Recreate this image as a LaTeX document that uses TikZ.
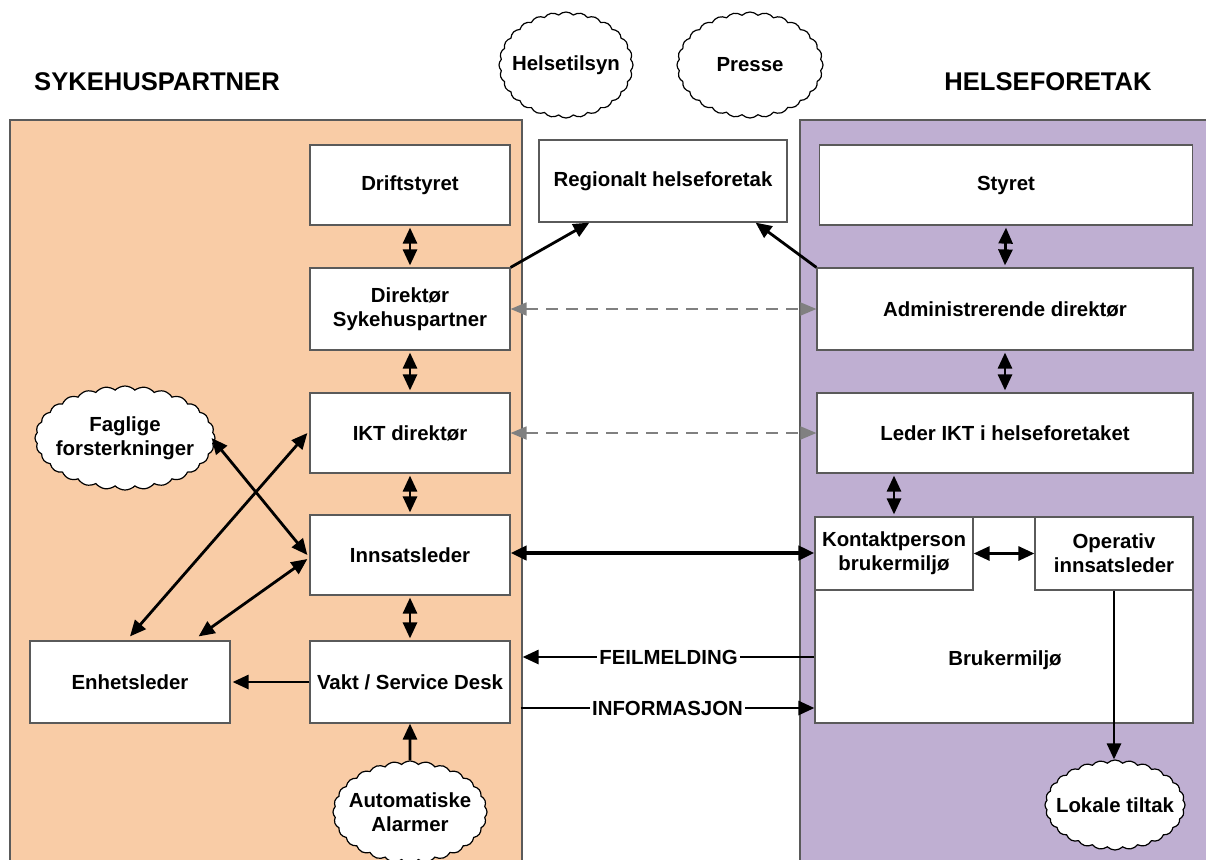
\documentclass[tikz,border=0pt]{standalone}
\usepackage{fontspec}
\setmainfont{Liberation Sans}
\usetikzlibrary{arrows.meta,shapes.symbols,calc}

\definecolor{peach}{RGB}{249,204,166}
\definecolor{lilac}{RGB}{191,175,210}
\definecolor{edge}{RGB}{90,90,90}

\tikzset{
  box/.style={draw=edge, fill=white, line width=0.6pt, inner sep=0pt,
    align=center, font=\fontsize{10.2}{12}\selectfont\bfseries,
    minimum width=100pt, minimum height=40pt},
  sky/.style={cloud, cloud puffs=28, cloud puff arc=90, cloud ignores aspect,
    draw=black, fill=white, line width=0.6pt, inner xsep=-8pt, inner ysep=0pt, align=center,
    font=\fontsize{10.2}{12}\selectfont\bfseries},
  heading/.style={font=\fontsize{12.8}{14}\selectfont\bfseries},
  tag/.style={fill=white, inner sep=1pt, font=\fontsize{10.2}{12}\selectfont\bfseries},
  arr/.style={-{Triangle[length=8pt,width=7pt]}, line width=1.4pt},
  biarr/.style={{Triangle[length=8pt,width=7pt]}-{Triangle[length=8pt,width=7pt]}, line width=1.4pt},
  dasharr/.style={{Triangle[length=8pt,width=6.5pt]}-{Triangle[length=8pt,width=6.5pt]},
    line width=0.9pt, gray, dash pattern=on 6pt off 4pt},
}

\begin{document}
\begin{tikzpicture}[x=0.5pt,y=-0.5pt]
\clip (0,0) rectangle (1206,859);
\fill[white] (0,0) rectangle (1206,859);

% Paneler
\draw[edge, fill=peach, line width=0.6pt] (10,120) rectangle (522,880);
\draw[edge, fill=lilac, line width=0.6pt] (800,120) rectangle (1220,880);

\node[heading] (sykehus) at (157,82) {SYKEHUSPARTNER};
\node[heading] (foretak) at (1048,82) {HELSEFORETAK};

% Skyer
\node[sky, minimum width=67pt, minimum height=53pt] (tilsyn) at (566,65) {Helsetilsyn};
\node[sky, minimum width=73pt, minimum height=53pt] (presse) at (750,65) {Presse};
\node[sky, minimum width=90pt, minimum height=52pt] (faglige) at (125,438) {Faglige\\forsterkninger};
\node[sky, minimum width=77pt, minimum height=51pt] (alarm) at (410,812) {Automatiske\\Alarmer};
\node[sky, minimum width=70pt, minimum height=45pt] (lokale) at (1115,805) {Lokale tiltak};

% Sykehuspartner
\node[box] (drift) at (410,185) {Driftstyret};
\node[box, minimum height=41pt] (dirsp) at (410,309) {Direktør\\Sykehuspartner};
\node[box] (ikt) at (410,433) {IKT direktør};
\node[box] (innsats) at (410,555) {Innsatsleder};
\node[box, minimum height=41pt] (vakt) at (410,682) {Vakt / Service Desk};
\node[box, minimum height=41pt] (enhet) at (130,682) {Enhetsleder};

% Midten
\node[box, minimum width=124pt, minimum height=41pt] (regional) at (663,181) {Regionalt helseforetak};

% Helseforetak
\node[box, minimum width=186.5pt] (styret) at (1006,185) {Styret};
\node[box, minimum width=188pt, minimum height=41pt] (admdir) at (1005,309) {Administrerende direktør};
\node[box, minimum width=188pt] (lederikt) at (1005,433) {Leder IKT i helseforetaket};
\node[box, minimum width=189pt, minimum height=103pt] (bruker) at (1004,620) {};
\node[font=\fontsize{10.2}{12}\selectfont\bfseries] (brukertxt) at (1005,660) {Brukermiljø};
\node[box, minimum width=79pt, minimum height=36.5pt] (kontakt) at (894,553.5) {Kontaktperson\\brukermiljø};
\node[box, minimum width=79pt, minimum height=36.5pt] (operativ) at (1114,553.5) {Operativ\\innsatsleder};

% Linjer
\draw[biarr] ([yshift=-1pt]drift.south) -- ([yshift=1pt]dirsp.north);
\draw[biarr] ([yshift=-1pt]dirsp.south) -- ([yshift=1pt]ikt.north);
\draw[biarr] ([yshift=-1pt]ikt.south) -- ([yshift=1pt]innsats.north);
\draw[biarr] ([yshift=-1pt]innsats.south) -- ([yshift=1pt]vakt.north);
\draw[biarr] ([yshift=-1pt]styret.south) -- ([yshift=1pt]admdir.north);
\draw[biarr] ([yshift=-1pt]admdir.south) -- ([yshift=1pt]lederikt.north);
\draw[biarr] ([yshift=-1pt]lederikt.south -| kontakt) -- ([yshift=1pt]kontakt.north);

\draw[arr] (dirsp.north east) -- ([xshift=25.5pt]regional.south west);
\draw[arr] (admdir.north west) -- ([xshift=-16pt]regional.south east);

\draw[dasharr] (dirsp.east) -- (admdir.west);
\draw[dasharr] (ikt.east) -- (lederikt.west);

\draw[biarr, line width=2pt] ([yshift=1pt]innsats.east) -- ([yshift=1pt]innsats.east -| kontakt.west);
\draw[biarr] (kontakt.east) -- (operativ.west);

\draw[arr] ([yshift=12.5pt]bruker.west |- vakt.east) -- node[tag] (feil) {FEILMELDING} ([xshift=6pt,yshift=12.5pt]vakt.east);
\draw[arr] ([xshift=5pt,yshift=-13pt]vakt.east) -- node[tag] (info) {INFORMASJON} ([yshift=-13pt]bruker.west |- vakt.east);

\draw[arr] (vakt.west) -- ([xshift=1pt]enhet.east);
\draw[arr] (alarm.north) -- (vakt.south);
\draw[arr] (operativ.south) -- (operativ.south |- lokale.north);

\draw[biarr] ([xshift=-2pt]faglige.east) -- ([xshift=-1pt]innsats.west);
\draw[biarr] ([xshift=-1pt]ikt.west) -- ([yshift=2pt]enhet.north);
\draw[biarr] ([xshift=-1pt,yshift=-2pt]innsats.west) -- ([xshift=-16pt,yshift=2pt]enhet.north east);

\end{tikzpicture}
\end{document}
